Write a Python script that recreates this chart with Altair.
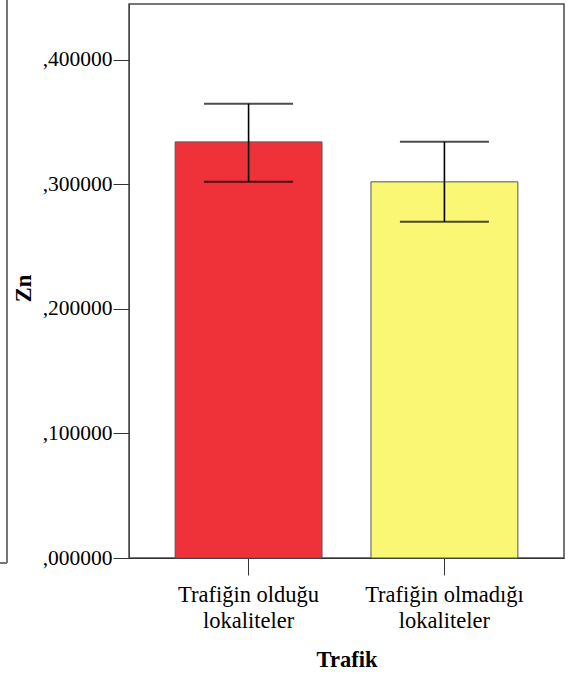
import altair as alt
import pandas as pd

categories = ["Trafiğin olduğu\nlokaliteler", "Trafiğin olmadığı\nlokaliteler"]
means = [0.3341, 0.3020]
lower = [0.3020, 0.2700]
upper = [0.3647, 0.3342]
colors = ["#EF323A", "#FAF775"]
y_ticks = [0.0, 0.1, 0.2, 0.3, 0.4]

df = pd.DataFrame({"Trafik": categories, "Zn": means, "lo": lower, "hi": upper})

FONT = "Liberation Serif"

x_enc = alt.X(
    "Trafik:N",
    sort=categories,
    scale=alt.Scale(paddingInner=0.25, paddingOuter=0.2356),
    axis=alt.Axis(
        title="Trafik",
        labelAngle=0,
        labelExpr="split(datum.label, '\\n')",
        labelLineHeight=26,
        labelFontSize=22.5,
        labelColor="#000",
        labelPadding=8,
        tickSize=17,
        tickColor="#333",
        domainColor="#333",
        titleFontSize=22.5,
        titleFontWeight="bold",
        titleColor="#000",
        titleBaseline="alphabetic",
        titleY=108,
    ),
)

y_scale = alt.Scale(domain=[0, 0.4448], nice=False, zero=True)

bars = alt.Chart(df).mark_bar(stroke="#555555", strokeWidth=1).encode(
    x=x_enc,
    y=alt.Y(
        "Zn:Q",
        scale=y_scale,
        axis=alt.Axis(
            title="Zn",
            values=y_ticks,
            labelExpr="replace(format(datum.value, '.6f'), '0.', ',')",
            labelFontSize=21.5,
            labelColor="#000",
            labelPadding=1,
            tickSize=16,
            tickColor="#333",
            domainColor="#444",
            grid=False,
            titleFontSize=22.5,
            titleFontWeight="bold",
            titleColor="#000",
            titleBaseline="alphabetic",
            titleX=-99,
            titleY=284,
        ),
    ),
    color=alt.Color("Trafik:N", scale=alt.Scale(domain=categories, range=colors), legend=None),
)

stems = alt.Chart(df).mark_rule(color="#000", strokeWidth=1.6).encode(
    x=alt.X("Trafik:N", sort=categories),
    y=alt.Y("lo:Q", scale=y_scale),
    y2="hi:Q",
)

caps_hi = alt.Chart(df).mark_tick(color="#000", size=89, thickness=2).encode(
    x=alt.X("Trafik:N", sort=categories),
    y=alt.Y("hi:Q", scale=y_scale),
)
caps_lo = alt.Chart(df).mark_tick(color="#000", size=89, thickness=2).encode(
    x=alt.X("Trafik:N", sort=categories),
    y=alt.Y("lo:Q", scale=y_scale),
)

# decorative edge of a neighbouring (cropped) frame at the far left
deco = pd.DataFrame({"k": [0]})
edge_v = alt.Chart(deco).mark_rule(color="#777", strokeWidth=2).encode(
    x=alt.value(-122), y=alt.value(-4), y2=alt.value(559)
)
edge_h = alt.Chart(deco).mark_rule(color="#777", strokeWidth=2).encode(
    x=alt.value(-130), x2=alt.value(-122), y=alt.value(559)
)

chart = (
    alt.layer(bars, stems, caps_hi, caps_lo, edge_v, edge_h)
    .properties(
        width=435,
        height=554,
        autosize=alt.AutoSizeParams(type="none"),
        padding={"left": 129, "top": 4, "right": 5, "bottom": 124},
        background="white",
    )
    .configure(font=FONT)
    .configure_axis(labelFont=FONT, titleFont=FONT)
    .configure_view(stroke="#4a4a4a", strokeWidth=1.5)
)

chart.save("out.html", embed_options={"renderer": "svg", "actions": False})
